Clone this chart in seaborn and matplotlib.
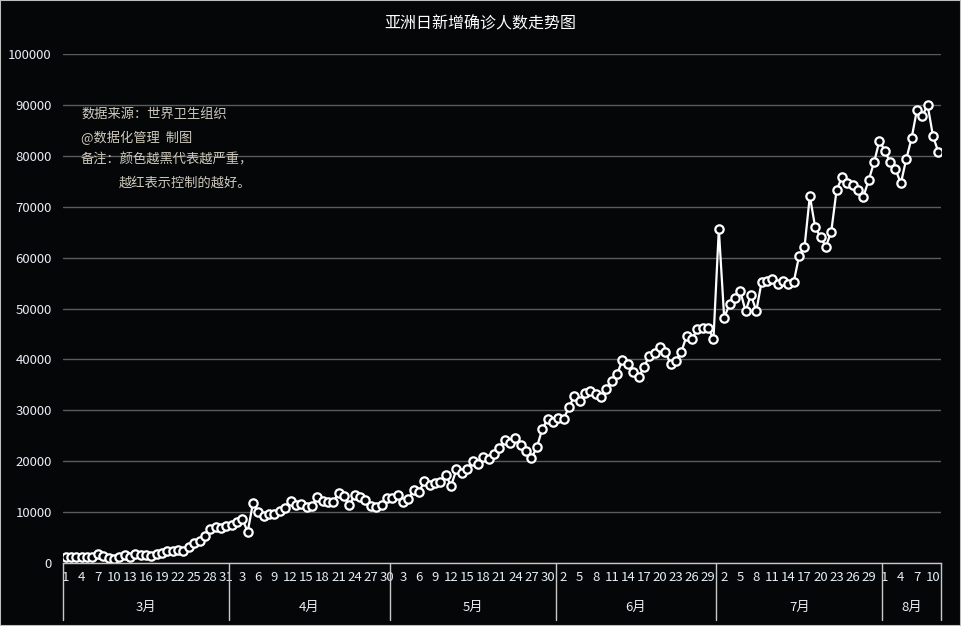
import matplotlib
matplotlib.use('Agg')
import matplotlib.pyplot as plt
import matplotlib.transforms as mtransforms
import matplotlib.patches as mpatches
import numpy as np
import pandas as pd
import seaborn as sns

# 亚洲日新增确诊人数 (2020-03-01 ~ 2020-08-11)
months = ['3月', '4月', '5月', '6月', '7月', '8月']
mar = [1100, 1100, 1100, 1250, 1100, 1100, 1700, 1380, 920, 720,
       1100, 1500, 1100, 1700, 1500, 1570, 1440, 1700, 1900, 2300,
       2300, 2620, 2420, 3080, 3870, 4390, 5240, 6680, 7140, 6940, 7250]
apr = [7470, 8120, 8580, 6150, 11850, 9950, 9230, 9630, 9630, 10220,
       10870, 12250, 11400, 11530, 11070, 11200, 12900, 12250, 12050, 12050,
       13820, 13160, 11400, 13360, 13030, 12380, 11200, 10940, 11300, 12710]
may = [12710, 13360, 11900, 12510, 14300, 14010, 16050, 15320, 15780, 15980,
       17290, 15190, 18400, 17750, 18400, 20050, 19450, 20890, 20370, 21350,
       22530, 24160, 23640, 24650, 23250, 21950, 20620, 22700, 26260, 28250, 27700]
jun = [28420, 28290, 30580, 32810, 31890, 33330, 33790, 33140, 32670, 34120,
       35820, 37130, 39880, 39030, 37460, 36480, 38440, 40730, 41190, 42500,
       41520, 39030, 39750, 41520, 44660, 44010, 45970, 46230, 46230, 44010]
jul = [65560, 48200, 50820, 52000, 53400, 49510, 52650, 49510, 55270, 55470,
       55730, 54810, 55340, 54810, 55270, 60310, 62020, 72100, 65950, 63990,
       62150, 65100, 73280, 75770, 74720, 74260, 73280, 71970, 75250, 78720, 82970]
aug = [81000, 78720, 77340, 74590, 79310, 83430, 89000, 87820, 89980, 83890, 80750]

series = [mar, apr, may, jun, jul, aug]
days = []
cases = []
for m in series:
    days += list(range(1, len(m) + 1))
    cases += m
df = pd.DataFrame({'idx': np.arange(len(cases)), 'day': days, 'cases': cases})

bg = '#040608'
light = '#c8c8c8'
sns.set_theme(style='dark', rc={'axes.facecolor': bg, 'figure.facecolor': bg,
                                'savefig.facecolor': bg})
plt.rcParams['font.family'] = ['Noto Sans CJK SC', 'DejaVu Sans']

fig = plt.figure(figsize=(9.61, 6.26), dpi=100)
ax = fig.add_axes([63 / 961, 63 / 626, 878 / 961, 509 / 626])

sns.lineplot(data=df, x='idx', y='cases', ax=ax, color='white', lw=1.6,
             marker='o', markersize=6, markerfacecolor=bg,
             markeredgecolor='white', markeredgewidth=1.6)

n = len(df)
ax.set_xlim(-0.5, n - 0.5)
ax.set_ylim(0, 100000)
ax.set_yticks(range(0, 100001, 10000))
ax.set_yticklabels([str(v) for v in range(0, 100001, 10000)])
ax.set_xticks(df['idx'][::3])
ax.set_xticklabels(df['day'][::3])
ax.tick_params(axis='x', length=0, pad=6, labelsize=9.5, colors='#e4ecf4')
ax.tick_params(axis='y', length=0, pad=8, labelsize=9.5, colors='#e8eef4')
ax.set_xlabel('')
ax.set_ylabel('')

ax.yaxis.grid(True, color='#5c5c5c', lw=1)
ax.xaxis.grid(False)
for s in ['left', 'right', 'top']:
    ax.spines[s].set_visible(False)
ax.spines['bottom'].set_color(light)
ax.spines['bottom'].set_linewidth(1)

# 月份分组轴
trans = mtransforms.blended_transform_factory(ax.transData, ax.transAxes)
bounds = np.cumsum([0] + [len(m) for m in series])
for b in bounds:
    ax.plot([b - 0.5, b - 0.5], [0, -0.112], transform=trans, color=light,
            lw=1, clip_on=False)
for i, name in enumerate(months):
    mid = (bounds[i] + bounds[i + 1] - 1) / 2
    ax.text(mid, -0.0864, name, transform=trans, ha='center', va='center',
            fontsize=9.5, color='#e8eef4')

fig.text(480 / 961, 1 - 24 / 626, '亚洲日新增确诊人数走势图', ha='center',
         va='center', fontsize=11.5, color='white')

note_color = '#cfcabd'
fig.text(81 / 961, 1 - 115 / 626, '数据来源：世界卫生组织', fontsize=9.5,
         color=note_color, va='center')
fig.text(81 / 961, 1 - 138 / 626, '@数据化管理  制图', fontsize=9.5,
         color=note_color, va='center')
fig.text(81 / 961, 1 - 160 / 626, '备注：颜色越黑代表越严重，', fontsize=9.5,
         color=note_color, va='center')
fig.text(119 / 961, 1 - 183 / 626, '越红表示控制的越好。', fontsize=9.5,
         color=note_color, va='center')

fig.patches.append(mpatches.Rectangle((0, 0), 1, 1, transform=fig.transFigure,
                                      fill=False, edgecolor='#bdbdbd', lw=1.5))

fig.savefig('out.png', dpi=100, facecolor=bg)
